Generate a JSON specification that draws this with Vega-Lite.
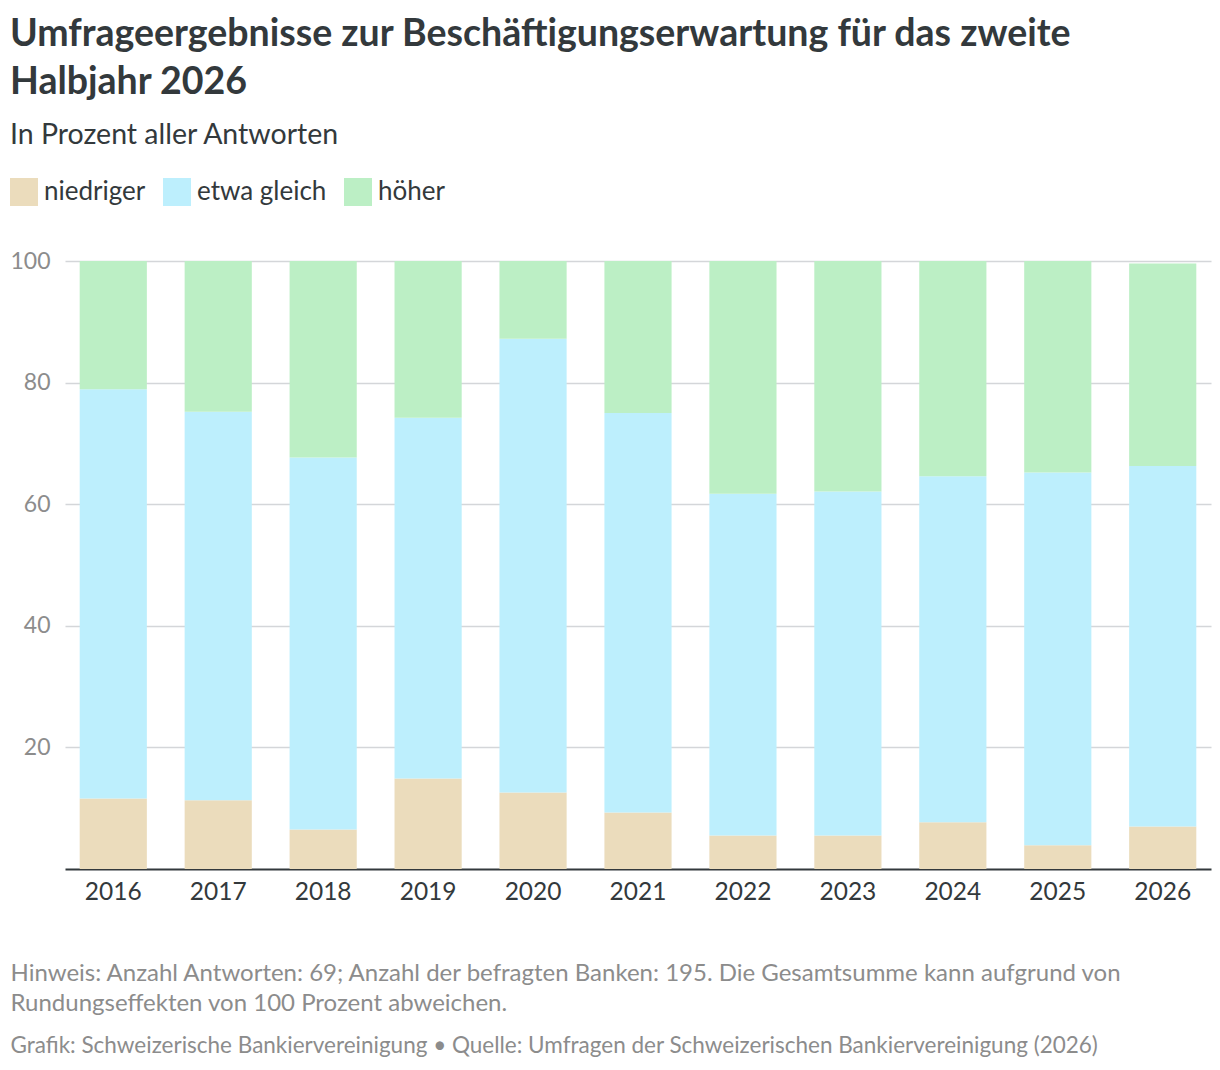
{
  "$schema": "https://vega.github.io/schema/vega-lite/v6.json",
  "width": 1146,
  "height": 608,
  "autosize": {"type": "none"},
  "padding": {"left": 65, "top": 261, "right": 9, "bottom": 201},
  "background": "white",
  "config": {
    "font": "Lato",
    "view": {"stroke": null}
  },
  "title": {
    "text": ["Umfrageergebnisse zur Beschäftigungserwartung für das zweite", "Halbjahr 2026"],
    "subtitle": "In Prozent aller Antworten",
    "anchor": "start",
    "frame": "group",
    "dx": -55,
    "offset": 29,
    "font": "Lato",
    "fontSize": 37.5,
    "fontWeight": "bold",
    "color": "#33393c",
    "lineHeight": 48,
    "subtitleFont": "Lato",
    "subtitleFontSize": 28.5,
    "subtitleColor": "#33393c",
    "subtitlePadding": 19
  },
  "data": {
    "values": [
      {"year": "2016", "cat": "niedriger", "value": 11.6},
      {"year": "2016", "cat": "etwa gleich", "value": 67.3},
      {"year": "2016", "cat": "höher", "value": 21.1},
      {"year": "2017", "cat": "niedriger", "value": 11.3},
      {"year": "2017", "cat": "etwa gleich", "value": 63.9},
      {"year": "2017", "cat": "höher", "value": 24.8},
      {"year": "2018", "cat": "niedriger", "value": 6.5},
      {"year": "2018", "cat": "etwa gleich", "value": 61.2},
      {"year": "2018", "cat": "höher", "value": 32.3},
      {"year": "2019", "cat": "niedriger", "value": 14.9},
      {"year": "2019", "cat": "etwa gleich", "value": 59.3},
      {"year": "2019", "cat": "höher", "value": 25.8},
      {"year": "2020", "cat": "niedriger", "value": 12.6},
      {"year": "2020", "cat": "etwa gleich", "value": 74.6},
      {"year": "2020", "cat": "höher", "value": 12.8},
      {"year": "2021", "cat": "niedriger", "value": 9.3},
      {"year": "2021", "cat": "etwa gleich", "value": 65.7},
      {"year": "2021", "cat": "höher", "value": 25.0},
      {"year": "2022", "cat": "niedriger", "value": 5.5},
      {"year": "2022", "cat": "etwa gleich", "value": 56.2},
      {"year": "2022", "cat": "höher", "value": 38.3},
      {"year": "2023", "cat": "niedriger", "value": 5.5},
      {"year": "2023", "cat": "etwa gleich", "value": 56.6},
      {"year": "2023", "cat": "höher", "value": 37.9},
      {"year": "2024", "cat": "niedriger", "value": 7.7},
      {"year": "2024", "cat": "etwa gleich", "value": 56.9},
      {"year": "2024", "cat": "höher", "value": 35.4},
      {"year": "2025", "cat": "niedriger", "value": 3.9},
      {"year": "2025", "cat": "etwa gleich", "value": 61.3},
      {"year": "2025", "cat": "höher", "value": 34.8},
      {"year": "2026", "cat": "niedriger", "value": 7.0},
      {"year": "2026", "cat": "etwa gleich", "value": 59.3},
      {"year": "2026", "cat": "höher", "value": 33.3}
    ]
  },
  "transform": [
    {"calculate": "indexof(['niedriger', 'etwa gleich', 'höher'], datum.cat)", "as": "stackKey"}
  ],
  "mark": {"type": "bar"},
  "encoding": {
    "x": {
      "field": "year",
      "type": "nominal",
      "scale": {"paddingInner": 0.36, "paddingOuter": 0.14},
      "axis": {
        "labelAngle": 0,
        "labelFontSize": 24.5,
        "labelColor": "#33393c",
        "labelPadding": 11,
        "ticks": false,
        "domainColor": "#33393c",
        "domainWidth": 2,
        "grid": false,
        "title": [
          "Hinweis: Anzahl Antworten: 69; Anzahl der befragten Banken: 195. Die Gesamtsumme kann aufgrund von",
          "Rundungseffekten von 100 Prozent abweichen."
        ],
        "titleFont": "Lato",
        "titleFontSize": 24,
        "titleFontWeight": "normal",
        "titleColor": "#8c8c8c",
        "titleLineHeight": 30,
        "titleAnchor": "start",
        "titleAlign": "left",
        "titleBaseline": "middle",
        "titleX": -55,
        "titleY": 104
      }
    },
    "y": {
      "field": "value",
      "type": "quantitative",
      "stack": "zero",
      "scale": {"domain": [0, 100], "nice": false},
      "axis": {
        "title": "Grafik: Schweizerische Bankiervereinigung • Quelle: Umfragen der Schweizerischen Bankiervereinigung (2026)",
        "titleFont": "Lato",
        "titleFontSize": 22.5,
        "titleFontWeight": "normal",
        "titleColor": "#8c8c8c",
        "titleAngle": 0,
        "titleAnchor": "start",
        "titleAlign": "left",
        "titleBaseline": "middle",
        "titleX": -55,
        "titleY": 784,
        "values": [20, 40, 60, 80, 100],
        "labelFontSize": 23,
        "labelColor": "#8c8c8c",
        "labelPadding": 15,
        "ticks": false,
        "domain": false,
        "gridColor": "#d4d6d9",
        "gridWidth": 1.5
      }
    },
    "order": {"field": "stackKey", "type": "quantitative", "sort": "ascending"},
    "color": {
      "field": "cat",
      "type": "nominal",
      "scale": {
        "domain": ["niedriger", "etwa gleich", "höher"],
        "range": ["#ebdcbc", "#bdeffd", "#bcefc5"]
      },
      "legend": {
        "title": null,
        "orient": "none",
        "direction": "horizontal",
        "legendX": -55,
        "legendY": -83,
        "symbolType": "square",
        "symbolSize": 784,
        "symbolStrokeWidth": 0,
        "symbolOpacity": 1,
        "labelFontSize": 26,
        "labelColor": "#33393c",
        "labelOffset": 6,
        "columnPadding": 17
      }
    }
  }
}
